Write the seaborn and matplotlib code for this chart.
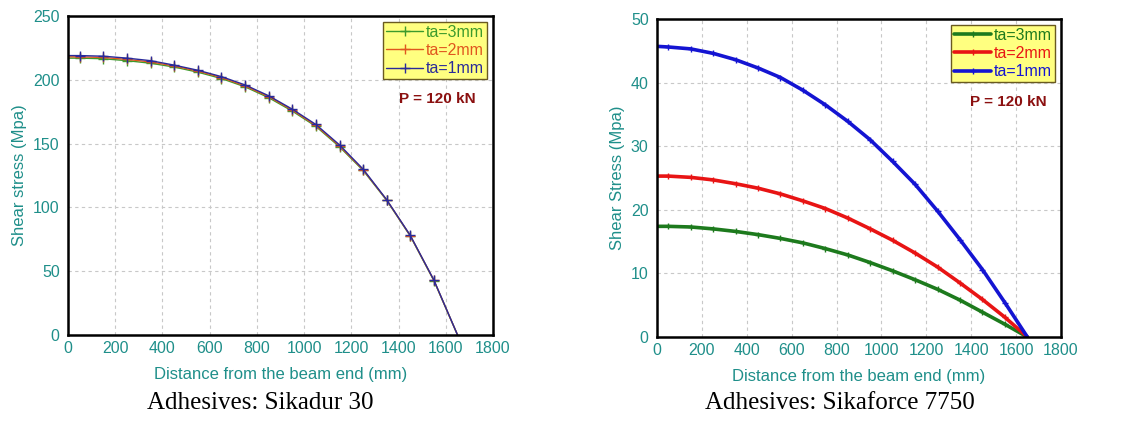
import pandas as pd
import seaborn as sns
import matplotlib.pyplot as plt

#=====================
# Data
#=====================

x_mm = [0, 50, 150, 250, 350, 450, 550, 650, 750, 850, 950, 1050,
        1150, 1250, 1350, 1450, 1550, 1650]

# Sikadur 30
sd_ta3 = [217, 217, 216.5, 215, 213, 210, 206, 201, 194.5, 186, 175.5, 163.5,
          147.5, 129, 105.5, 77.5, 42.5, 0]
sd_ta2 = [218, 218, 217.5, 216, 214, 210.8, 206.8, 201.8, 195.2, 186.8, 176.3, 164.2,
          148.2, 129.5, 105.8, 77.8, 42.8, 0]
sd_ta1 = [219, 219, 218.5, 217, 215, 211.5, 207.5, 202.5, 196, 187.5, 177, 165,
          149, 130, 106, 78, 43, 0]

# Sikaforce 7750
sf_ta3 = [17.4, 17.4, 17.3, 17.0, 16.6, 16.1, 15.5, 14.8, 13.9, 12.9, 11.7, 10.4,
          9.0, 7.5, 5.8, 3.9, 2.0, 0]
sf_ta2 = [25.3, 25.3, 25.1, 24.7, 24.1, 23.4, 22.5, 21.4, 20.2, 18.7, 17.0, 15.2,
          13.2, 11.0, 8.5, 5.9, 3.1, 0]
sf_ta1 = [45.7, 45.6, 45.3, 44.6, 43.6, 42.3, 40.8, 38.8, 36.5, 33.9, 31.0, 27.6,
          24.0, 19.8, 15.3, 10.6, 5.4, 0]

labels = ['ta=3mm', 'ta=2mm', 'ta=1mm']

teal = '#1f8f8a'
sns.set_style('white')
plt.rcParams['font.family'] = ['Liberation Sans', 'DejaVu Sans']

fig = plt.figure(figsize=(11.26, 4.26), dpi=100)
ax1 = fig.add_axes([0.0604, 0.2136, 0.3774, 0.7488])
ax2 = fig.add_axes([0.5835, 0.2089, 0.3588, 0.7465])

panels = [
    (ax1, [sd_ta3, sd_ta2, sd_ta1], ['#3c9a2c', '#e0561e', '#2a2a9a'], 1.0, 7, 250, 50,
     'Shear stress (Mpa)', 'Adhesives: Sikadur 30', 0.231),
    (ax2, [sf_ta3, sf_ta2, sf_ta1], ['#1d7a1d', '#e81414', '#1414d2'], 2.6, 5, 50, 10,
     'Shear Stress (Mpa)', 'Adhesives: Sikaforce 7750', 0.746),
]

for ax, series, colors, lw, ms, ymax, ystep, ylabel, caption, cx in panels:
    for vals, lab, col in zip(series, labels, colors):
        df = pd.DataFrame({'x': x_mm, 'y': vals})
        sns.lineplot(data=df, x='x', y='y', ax=ax, color=col, lw=lw, label=lab,
                     marker='+', markersize=ms, mew=1.0, mec=col, mfc=col,
                     markevery=slice(1, -1))
    ax.set_xlim(0, 1800)
    ax.set_ylim(0, ymax)
    ax.set_xticks(range(0, 1801, 200))
    ax.set_yticks(range(0, ymax + 1, ystep))
    ax.grid(True, color='#c8c8c8', ls=(0, (3, 3)), lw=0.8)
    for s in ax.spines.values():
        s.set_color('black')
        s.set_linewidth(1.8)
    ax.tick_params(axis='x', direction='in', length=5, width=1.5, colors='black',
                   labelcolor=teal, labelsize=11.5, pad=4)
    ax.tick_params(axis='y', length=0, labelcolor=teal, labelsize=11.5, pad=6)
    ax.set_xlabel('Distance from the beam end (mm)', color=teal, fontsize=12, labelpad=8)
    ax.set_ylabel(ylabel, color=teal, fontsize=12)
    leg = ax.legend(loc='upper right', fontsize=11.5, frameon=True, fancybox=False,
                    borderaxespad=0.35, handlelength=2.3, handletextpad=0.2,
                    borderpad=0.2, labelspacing=0.2)
    leg.get_frame().set_facecolor('#ffff80')
    leg.get_frame().set_edgecolor('#6a5a20')
    leg.get_frame().set_alpha(1)
    for t, col in zip(leg.get_texts(), colors):
        t.set_color(col)
    ax.text(0.87, 0.74, 'P = 120 kN', transform=ax.transAxes, ha='center', va='center',
            color='#8b1010', fontsize=11, fontweight='bold')
    fig.text(cx, 0.054, caption, ha='center', va='center',
             family='Liberation Serif', fontsize=18, color='black')

fig.savefig('out.png', dpi=100)
